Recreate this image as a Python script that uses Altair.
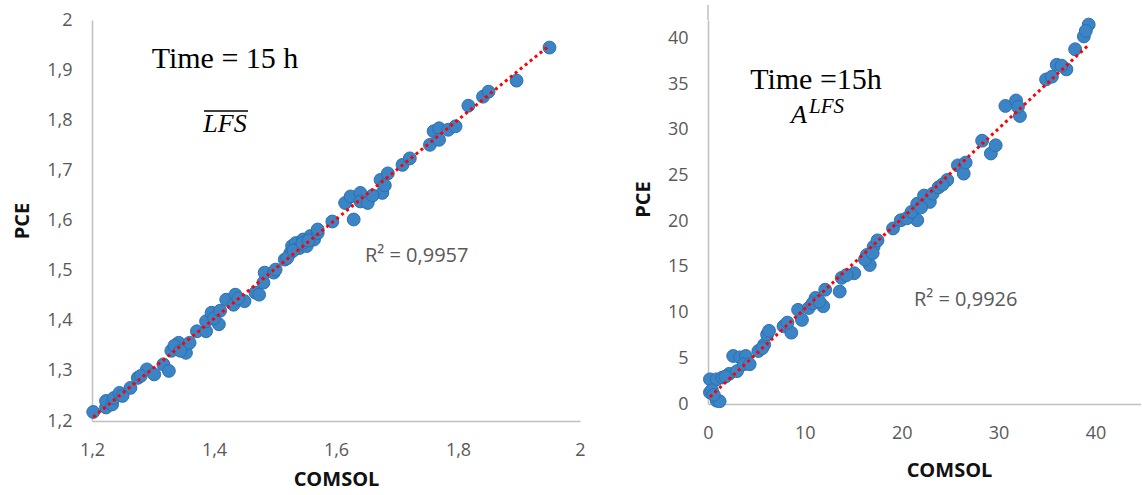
import altair as alt
import pandas as pd

# Panel 1: LFS mean at t = 15 h (COMSOL vs PCE)
lfs_comsol = [1.202, 1.223, 1.223, 1.233, 1.236, 1.245, 1.263, 1.275, 1.29, 1.302,
              1.317, 1.326, 1.33, 1.342, 1.354, 1.36, 1.372, 1.387, 1.387, 1.396,
              1.408, 1.42, 1.432, 1.435, 1.45, 1.468, 1.474, 1.481, 1.483, 1.498,
              1.501, 1.516, 1.525, 1.528, 1.534, 1.54, 1.546, 1.552, 1.558, 1.564,
              1.57, 1.57, 1.594, 1.615, 1.624, 1.629, 1.64, 1.64, 1.652, 1.673,
              1.676, 1.685, 1.709, 1.721, 1.754, 1.76, 1.769, 1.769, 1.784, 1.796,
              1.817, 1.841, 1.85, 1.896, 1.95,
              1.25, 1.28, 1.335, 1.345, 1.40, 1.41, 1.44, 1.52, 1.53, 1.545, 1.555,
              1.66, 1.68]
lfs_pce = [1.218, 1.227, 1.24, 1.233, 1.246, 1.256, 1.266, 1.286, 1.303, 1.293,
           1.313, 1.30, 1.34, 1.356, 1.336, 1.356, 1.379, 1.379, 1.399, 1.416,
           1.393, 1.442, 1.432, 1.452, 1.439, 1.456, 1.452, 1.476, 1.496, 1.496,
           1.502, 1.522, 1.535, 1.549, 1.555, 1.545, 1.562, 1.549, 1.569, 1.562,
           1.575, 1.582, 1.598, 1.635, 1.648, 1.602, 1.655, 1.638, 1.635, 1.681,
           1.655, 1.694, 1.711, 1.724, 1.751, 1.778, 1.784, 1.761, 1.781, 1.788,
           1.829, 1.847, 1.857, 1.879, 1.945,
           1.25, 1.29, 1.35, 1.34, 1.405, 1.42, 1.445, 1.525, 1.54, 1.555, 1.56,
           1.65, 1.67]

# Panel 2: A^LFS at t = 15 h
a_comsol = [0.9, 1.2, 0.2, 0.55, 0.2, 0.9, 1.5, 2.2, 3.0, 2.6,
            3.3, 3.9, 3.7, 4.3, 5.2, 5.8, 6.1, 6.3, 5.6, 7.8,
            8.6, 8.2, 9.3, 9.7, 10.4, 11.1, 11.9, 12.1, 13.6, 13.8,
            15.1, 14.3, 16.4, 16.7, 17.1, 17.5, 19.1, 19.9, 21.6, 21.6,
            22.3, 22.9, 23.2, 23.8, 24.7, 25.8, 26.4, 26.6, 28.3, 29.2,
            29.7, 30.7, 31.8, 32.2, 34.9, 36.0, 37.0, 37.9, 38.8, 39.3, 39.0,
            10.8, 11.5, 16.2, 17.0, 20.5, 21.0, 22.0, 24.2, 35.5, 36.5, 32.0,
            1.8, 0.4, 0.6]
a_pce = [0.36, 0.3, 1.27, 2.5, 2.7, 2.7, 2.9, 3.3, 3.6, 5.25,
         5.1, 5.25, 4.35, 4.35, 5.8, 6.5, 7.6, 8.0, 6.1, 8.5,
         7.8, 8.9, 10.3, 9.2, 10.5, 11.6, 10.7, 12.5, 12.3, 13.8,
         14.3, 14.1, 16.3, 15.2, 17.2, 17.9, 19.2, 20.1, 20.1, 21.9,
         22.8, 22.1, 23.0, 23.7, 24.5, 26.1, 25.2, 26.4, 28.8, 27.4,
         28.3, 32.6, 33.2, 31.5, 35.5, 37.1, 36.6, 38.8, 40.2, 41.5, 40.8,
         11.0, 11.2, 15.8, 16.5, 20.3, 21.0, 21.5, 24.0, 35.8, 37.0, 32.5,
         3.0, 1.5, 1.0]

lfs_xticks = [1.2, 1.4, 1.6, 1.8, 2.0]
lfs_yticks = [1.2, 1.3, 1.4, 1.5, 1.6, 1.7, 1.8, 1.9, 2.0]
a_xticks = [0, 10, 20, 30, 40]
a_yticks = [0, 5, 10, 15, 20, 25, 30, 35, 40]

comma_labels = "datum.value == 2 ? '2' : replace(format(datum.value, '.1f'), '.', ',')"

POINT = dict(size=165, fill="#3B84C6", stroke="#2E70B0", strokeWidth=1, opacity=1, filled=True)
TREND = dict(color="#FF0000", strokeDash=[3, 3.4], strokeWidth=3, strokeCap="butt")
GRAY = "#595959"
serif = "Liberation Serif"


def note(text, x, y, **kw):
    return alt.Chart(pd.DataFrame({"t": [text]})).mark_text(**kw).encode(
        x=alt.value(x), y=alt.value(y), text="t:N")


# ---- left panel ----
df1 = pd.DataFrame({"x": lfs_comsol, "y": lfs_pce})
x1 = alt.X("x:Q", title="COMSOL", scale=alt.Scale(domain=[1.2, 2.0], nice=False, zero=False),
           axis=alt.Axis(values=lfs_xticks, labelExpr=comma_labels, labelFlush=False,
                         labelPadding=20, titlePadding=10))
y1 = alt.Y("y:Q", title="PCE", scale=alt.Scale(domain=[1.2, 2.0], nice=False, zero=False),
           axis=alt.Axis(values=lfs_yticks, labelExpr=comma_labels, labelFlush=False,
                         labelPadding=20, titlePadding=14))
pts1 = alt.Chart(df1).mark_point(shape="circle", **POINT).encode(x=x1, y=y1)
fit1 = alt.Chart(df1).transform_regression("x", "y").mark_line(**TREND).encode(x="x:Q", y="y:Q")
left = alt.layer(
    pts1, fit1,
    note("Time = 15 h", 133, 48, font=serif, fontSize=30, align="center", baseline="alphabetic", color="#000000"),
    note("LFS", 133, 112, font=serif, fontSize=26, fontStyle="italic", align="center",
         baseline="alphabetic", color="#000000"),
    alt.Chart(pd.DataFrame({"k": [0]})).mark_rule(color="#000000", strokeWidth=1.3).encode(
        x=alt.value(112), x2=alt.value(156), y=alt.value(91)),
    note("R² = 0,9957", 273, 236, font="Open Sans", fontSize=20, align="left", baseline="middle", color=GRAY),
).properties(width=488, height=401)

# ---- right panel ----
df2 = pd.DataFrame({"x": a_comsol, "y": a_pce})
x2 = alt.X("x:Q", title="COMSOL", scale=alt.Scale(domain=[0, 44.7], nice=False),
           axis=alt.Axis(values=a_xticks, labelFlush=False, labelPadding=20, titlePadding=18,
                         titleX=241))
y2 = alt.Y("y:Q", title="PCE", scale=alt.Scale(domain=[0, 42], nice=False),
           axis=alt.Axis(values=a_yticks, labelFlush=False, labelPadding=20, titlePadding=14,
                         titleY=179))
pts2 = alt.Chart(df2).mark_point(shape="circle", **POINT).encode(x=x2, y=y2)
fit2 = alt.Chart(df2).transform_regression("x", "y").mark_line(**TREND).encode(x="x:Q", y="y:Q")
right = alt.layer(
    # upward extension of the y axis line above the plot frame
    alt.Chart(pd.DataFrame({"k": [0]})).mark_rule(color="#BFBFBF", strokeWidth=1.5).encode(
        x=alt.value(0), y=alt.value(-15), y2=alt.value(0)),
    pts2, fit2,
    note("Time =15h", 108, 69, font=serif, fontSize=30, align="center", baseline="alphabetic", color="#000000"),
    note("A", 83, 103, font=serif, fontSize=26, fontStyle="italic", align="left",
         baseline="alphabetic", color="#000000"),
    note("LFS", 101, 93, font=serif, fontSize=21, fontStyle="italic", align="left",
         baseline="alphabetic", color="#000000"),
    note("R² = 0,9926", 206, 280, font="Open Sans", fontSize=20, align="left", baseline="middle", color=GRAY),
).properties(width=433, height=384)

chart = alt.hconcat(left, right, spacing=47).properties(
    padding={"left": 12, "top": 4, "right": 0, "bottom": 6}
).configure_axis(
    grid=False, ticks=False, tickSize=0,
    domainColor="#BFBFBF", domainWidth=1.5,
    labelFont="Open Sans", labelFontSize=18, labelColor=GRAY,
    titleFont="Open Sans", titleFontSize=20, titleFontWeight="bold", titleColor="#111111",
).configure_view(stroke=None)

chart.save("out.html", embed_options={"renderer": "svg", "actions": False})
